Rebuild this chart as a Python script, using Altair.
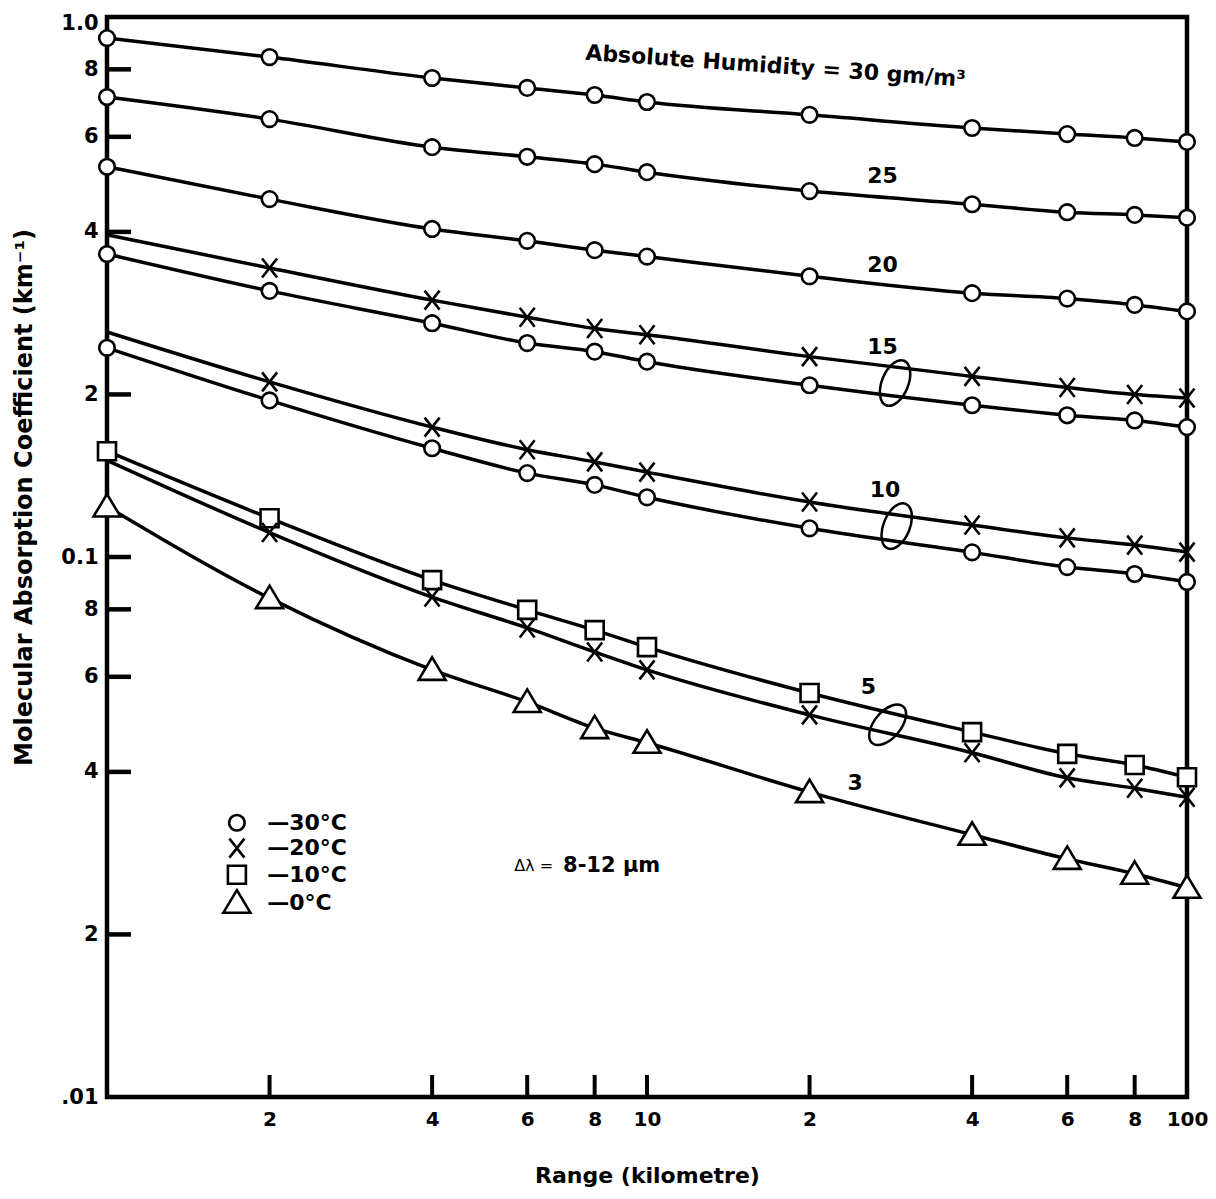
import altair as alt
import pandas as pd

# ---------------- data ----------------
ranges = [1, 2, 4, 6, 8, 10, 20, 40, 60, 80, 100]

h30_m30 = [0.914, 0.843, 0.771, 0.739, 0.717, 0.696, 0.659, 0.623, 0.607, 0.597, 0.587]
h25_m30 = [0.711, 0.647, 0.574, 0.551, 0.534, 0.516, 0.476, 0.450, 0.435, 0.430, 0.425]
h20_m30 = [0.528, 0.460, 0.405, 0.385, 0.370, 0.360, 0.331, 0.308, 0.301, 0.293, 0.285]
h15_m20 = [0.395, 0.343, 0.299, 0.278, 0.265, 0.258, 0.235, 0.216, 0.206, 0.200, 0.197]
h15_m30 = [0.364, 0.311, 0.271, 0.249, 0.240, 0.230, 0.208, 0.191, 0.183, 0.179, 0.174]
h10_m20 = [0.261, 0.211, 0.174, 0.158, 0.150, 0.1436, 0.1264, 0.1146, 0.1085, 0.1052, 0.1021]
h10_m30 = [0.244, 0.195, 0.159, 0.143, 0.136, 0.129, 0.113, 0.102, 0.0958, 0.0930, 0.0899]
h5_m10 = [0.157, 0.118, 0.0906, 0.0798, 0.0732, 0.0681, 0.0560, 0.0474, 0.0432, 0.0412, 0.0391]
h5_m20 = [0.151, 0.111, 0.0843, 0.0739, 0.0667, 0.0618, 0.0510, 0.0434, 0.0390, 0.0373, 0.0359]
h3_m0 = [0.124, 0.0839, 0.0618, 0.0539, 0.0482, 0.0453, 0.0367, 0.0306, 0.0276, 0.0259, 0.0244]

temps = ["—30°C", "—20°C", "—10°C", "—0°C"]

series = [
    ("30", temps[0], h30_m30),
    ("25", temps[0], h25_m30),
    ("20", temps[0], h20_m30),
    ("15", temps[1], h15_m20),
    ("15", temps[0], h15_m30),
    ("10", temps[1], h10_m20),
    ("10", temps[0], h10_m30),
    ("5", temps[2], h5_m10),
    ("5", temps[1], h5_m20),
    ("3", temps[3], h3_m0),
]

x_tick_values = [2, 4, 6, 8, 10, 20, 40, 60, 80, 100]
x_tick_labels = ["2", "4", "6", "8", "10", "2", "4", "6", "8", "100"]
y_tick_values = [1.0, 0.8, 0.6, 0.4, 0.2, 0.1, 0.08, 0.06, 0.04, 0.02, 0.01]
y_tick_labels = ["1.0", "8", "6", "4", "2", "0.1", "8", "6", "4", "2", ".01"]
x_inner_ticks = [2, 4, 6, 8, 10, 20, 40, 60, 80]
y_inner_ticks = [0.8, 0.6, 0.4, 0.2, 0.1, 0.08, 0.06, 0.04, 0.02]

hum_labels = ["25", "20", "15", "10", "5", "3"]
hum_label_x = [27.3, 27.3, 27.3, 27.6, 25.7, 24.3]
hum_label_y = [0.508, 0.347, 0.245, 0.133, 0.0574, 0.0381]

ellipse_x = [28.8, 29.0, 27.9]
ellipse_y = [0.210, 0.1141, 0.0489]

title_text = ["Absolute Humidity = 30 gm/m³"]
title_x = [17.3]
title_y = [0.811]

band_prefix = ["Δλ ="]
band_prefix_x = [6.70]
band_value = ["8-12 µm"]
band_value_x = [6.99]
band_y = [0.0268]

# legend key (placed inside the plot, as in the original)
legend_symbol_x = [1.74, 1.74, 1.74, 1.74]
legend_text_x = [1.98, 1.98, 1.98, 1.98]
legend_y = [0.0322, 0.0289, 0.0258, 0.0229]

# ---------------- tables ----------------
rows = []
for hum, temp, vals in series:
    for r, v in zip(ranges, vals):
        rows.append({"series": hum + "|" + temp, "humidity": hum, "temp": temp,
                     "range": r, "coef": v})
df = pd.DataFrame(rows)

FONT = "DejaVu Sans"
W = 1080
H = 1080


def label_expr(vals, labels):
    parts = [f"abs(datum.value - {v}) < {v * 0.001} ? '{l}'" for v, l in zip(vals, labels)]
    return " : ".join(parts) + " : ''"


xscale = alt.Scale(type="log", domain=[1, 100], nice=False)
yscale = alt.Scale(type="log", domain=[0.01, 1.0], nice=False)

x_axis = alt.Axis(
    values=x_tick_values, labelExpr=label_expr(x_tick_values, x_tick_labels),
    tickSize=0, domain=False, grid=False, labelFont=FONT, labelFontWeight="bold",
    labelFontSize=20, labelPadding=12, labelFlush=False, labelOverlap=False,
    labelColor="black", title="Range (kilometre)", titleFont=FONT,
    titleFontWeight="bold", titleFontSize=22, titleColor="black",
    titleY=78, titleBaseline="middle",
)
y_axis = alt.Axis(
    values=y_tick_values, labelExpr=label_expr(y_tick_values, y_tick_labels),
    tickSize=0, domain=False, grid=False, labelFont=FONT, labelFontWeight="bold",
    labelFontSize=21, labelPadding=9, labelFlush=False, labelOverlap=False,
    labelOffset={"condition": {"test": "datum.value > 0.99", "value": 6}, "value": 0},
    labelColor="black", title="Molecular Absorption Coefficient (km⁻¹)",
    titleFont=FONT, titleFontWeight="bold", titleFontSize=24, titleColor="black",
    titleX=-83, titleY=480, titleAlign="center", titleBaseline="middle", titleAngle=270,
)

X = alt.X("range:Q", scale=xscale, axis=x_axis)
Y = alt.Y("coef:Q", scale=yscale, axis=y_axis)

shape_paths = [
    "M0.78,0A0.78,0.78 0 1,1 -0.78,0A0.78,0.78 0 1,1 0.78,0Z",
    "M-0.75,-0.95L0.75,0.95M-0.75,0.95L0.75,-0.95",
    "M-0.9,-0.9L0.9,-0.9L0.9,0.9L-0.9,0.9Z",
    "M0,-1.25L1.35,1L-1.35,1Z",
]
SHAPE_SCALE = alt.Scale(domain=temps, range=shape_paths)

lines = alt.Chart(df).mark_line(
    color="black", strokeWidth=3.5, interpolate="monotone", strokeCap="round"
).encode(x=X, y=Y, detail="series:N")

points = alt.Chart(df).transform_filter(
    "datum.range > 1 || datum.temp != '—20°C'"
).mark_point(
    filled=True, fill="white", stroke="black", strokeWidth=2.6, opacity=1, size=400
).encode(
    x=X, y=Y,
    shape=alt.Shape("temp:N", scale=SHAPE_SCALE, legend=None),
)

# hand-built key inside the plot
key_sym_df = pd.DataFrame({"range": legend_symbol_x, "coef": legend_y, "temp": temps})
key_symbols = alt.Chart(key_sym_df).mark_point(
    filled=True, fill="white", stroke="black", strokeWidth=2.6, opacity=1, size=400
).encode(x=X, y=Y, shape=alt.Shape("temp:N", scale=SHAPE_SCALE, legend=None))

key_txt_df = pd.DataFrame({"range": legend_text_x, "coef": legend_y, "txt": temps})
key_text = alt.Chart(key_txt_df).mark_text(
    font=FONT, fontWeight="bold", fontSize=22, color="black", align="left", baseline="middle"
).encode(x=X, y=Y, text="txt:N")

xt_df = pd.DataFrame({"range": x_inner_ticks})
x_ticks = alt.Chart(xt_df).mark_rule(color="black", strokeWidth=4).encode(
    x=X, y=alt.value(H), y2=alt.value(H - 22)
)
yt_df = pd.DataFrame({"coef": y_inner_ticks})
y_ticks = alt.Chart(yt_df).mark_rule(color="black", strokeWidth=4.5).encode(
    y=Y, x=alt.value(0), x2=alt.value(24)
)

lab_df = pd.DataFrame({"range": hum_label_x, "coef": hum_label_y, "txt": hum_labels})
hum_text = alt.Chart(lab_df).mark_text(
    font=FONT, fontWeight="bold", fontSize=22, color="black", align="center", baseline="middle"
).encode(x=X, y=Y, text="txt:N")

t_df = pd.DataFrame({"range": title_x, "coef": title_y, "txt": title_text})
title_mark = alt.Chart(t_df).mark_text(
    font=FONT, fontWeight="bold", fontSize=22, color="black", align="center",
    baseline="middle", angle=4
).encode(x=X, y=Y, text="txt:N")

bp_df = pd.DataFrame({"range": band_prefix_x, "coef": band_y, "txt": band_prefix})
band_pre = alt.Chart(bp_df).mark_text(
    font=FONT, fontSize=16, color="black", align="right", baseline="middle"
).encode(x=X, y=Y, text="txt:N")
bv_df = pd.DataFrame({"range": band_value_x, "coef": band_y, "txt": band_value})
band_val = alt.Chart(bv_df).mark_text(
    font=FONT, fontWeight="bold", fontSize=21, color="black", align="left", baseline="middle"
).encode(x=X, y=Y, text="txt:N")

ellipse_path = "M0,-1A0.55,1 0 1,1 0,1A0.55,1 0 1,1 0,-1Z"
ellipse_angles = [22, 22, 40]
ellipses = []
for ex, ey, ang in zip(ellipse_x, ellipse_y, ellipse_angles):
    e_df = pd.DataFrame({"range": [ex], "coef": [ey]})
    ellipses.append(
        alt.Chart(e_df).mark_point(
            shape=ellipse_path, size=2304, filled=False, stroke="black",
            strokeWidth=2.5, angle=ang, opacity=1
        ).encode(x=X, y=Y)
    )

chart = alt.layer(
    lines, x_ticks, y_ticks, points, key_symbols, key_text, hum_text, title_mark,
    band_pre, band_val, *ellipses
).properties(
    width=W, height=H,
    autosize=alt.AutoSizeParams(type="none"),
    padding={"left": 99, "top": 9, "right": 21, "bottom": 90},
    background="white",
).configure_view(stroke="black", strokeWidth=4.5)

chart.save("out.html", embed_options={"renderer": "svg", "actions": False})
